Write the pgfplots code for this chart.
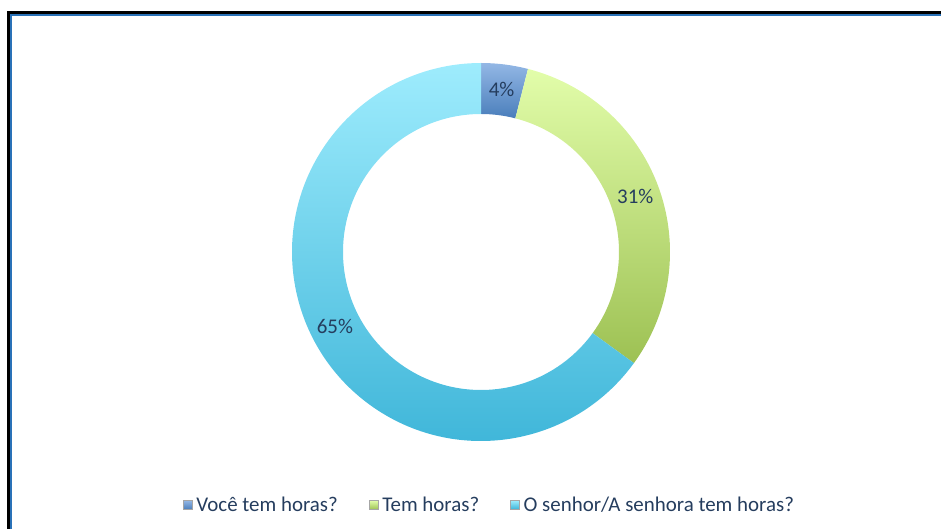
\documentclass[border=0pt]{standalone}
\usepackage{fontspec}
\setmainfont{Carlito}
\usepackage{pgfplots}
\usepackage{pgfplotstable}
\pgfplotsset{compat=1.18}

\definecolor{txt}{HTML}{253D5E}
\definecolor{blueT}{HTML}{93B7E5}
\definecolor{blueB}{HTML}{4A7EBB}
\definecolor{greenT}{HTML}{E2FDAA}
\definecolor{greenB}{HTML}{9DC153}
\definecolor{cyanT}{HTML}{9EECFD}
\definecolor{cyanB}{HTML}{3AB3D7}
\definecolor{frameblue}{HTML}{2A72B8}

\pgfplotstableread{
label value
A 4
B 31
C 65
}\datatable

\begin{document}
\begin{tikzpicture}
\pgfplotstablegetelem{0}{value}\of\datatable \let\va\pgfplotsretval
\pgfplotstablegetelem{1}{value}\of\datatable \let\vb\pgfplotsretval
\pgfplotstablegetelem{2}{value}\of\datatable \let\vc\pgfplotsretval
\pgfmathsetmacro\aA{90}
\pgfmathsetmacro\aB{\aA-3.6*\va}
\pgfmathsetmacro\aC{\aB-3.6*\vb}
\pgfmathsetmacro\aD{\aC-3.6*\vc}
\pgfmathsetmacro\mA{(\aA+\aB)/2}
\pgfmathsetmacro\mB{(\aB+\aC)/2}
\pgfmathsetmacro\mC{(\aC+\aD)/2}
\begin{axis}[
  scale only axis, width=941bp, height=529bp,
  xmin=0, xmax=941, ymin=0, ymax=529,
  hide axis, clip=false,
  legend columns=3,
  legend style={at={(axis cs:489,24)}, anchor=center, draw=none, fill=none,
    font=\fontsize{21}{25}\selectfont\color{txt},
    /tikz/every odd column/.append style={column sep=3bp},
    /tikz/every even column/.append style={column sep=30bp},
    nodes={inner xsep=1bp, inner ysep=1bp}},
  legend image code/.code={\draw[#1] (0bp,-4.5bp) rectangle (9bp,4.5bp);},
]
\addlegendimage{draw=gray!70, top color=blueT, bottom color=blueB}
\addlegendentry{Você tem horas?}
\addlegendimage{draw=gray!70, top color=greenT, bottom color=greenB}
\addlegendentry{Tem horas?}
\addlegendimage{draw=gray!70, top color=cyanT, bottom color=cyanB}
\addlegendentry{O senhor/A senhora tem horas?}

% frame
\draw[black, line width=2.6bp] (axis cs:8.75,-5) -- (axis cs:8.75,516.25) -- (axis cs:946,516.25);
\draw[frameblue, line width=1.6bp] (axis cs:11.2,-5) -- (axis cs:11.2,514.1) -- (axis cs:946,514.1);

% donut slices
\begin{scope}[shift={(axis cs:481,277)}]
\shade[top color=blueT, bottom color=blueB]
  (\aA:189bp) arc[start angle=\aA, end angle=\aB, radius=189bp]
  -- (\aB:138bp) arc[start angle=\aB, end angle=\aA, radius=138bp] -- cycle;
\shade[top color=greenT, bottom color=greenB]
  (\aB:189bp) arc[start angle=\aB, end angle=\aC, radius=189bp]
  -- (\aC:138bp) arc[start angle=\aC, end angle=\aB, radius=138bp] -- cycle;
\shade[top color=cyanT, bottom color=cyanB]
  (\aC:189bp) arc[start angle=\aC, end angle=\aD, radius=189bp]
  -- (\aD:138bp) arc[start angle=\aD, end angle=\aC, radius=138bp] -- cycle;
\node[text=txt, font=\fontsize{21}{25}\selectfont] at (\mA:164bp) {\va\%};
\node[text=txt, font=\fontsize{21}{25}\selectfont] at (\mB:164bp) {\vb\%};
\node[text=txt, font=\fontsize{21}{25}\selectfont] at (\mC:164bp) {\vc\%};
\end{scope}
\end{axis}
\pgfresetboundingbox
\useasboundingbox (current axis.south west) rectangle (current axis.north east);
\end{tikzpicture}
\end{document}
